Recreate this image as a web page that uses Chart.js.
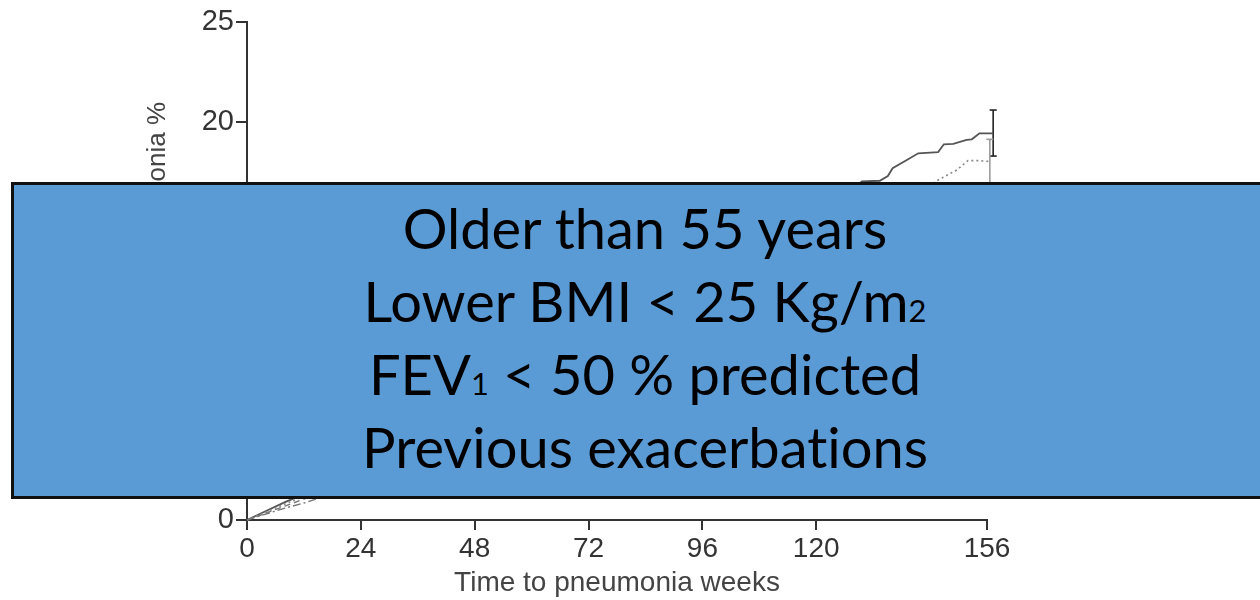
<!DOCTYPE html>
<html>
<head>
<meta charset="utf-8">
<title>Time to pneumonia</title>
<script src="https://cdn.jsdelivr.net/npm/chart.js@4.4.1/dist/chart.umd.min.js"></script>
<style>
  html, body { margin: 0; padding: 0; background: #fff; overflow: hidden; }
  #wrap { position: relative; width: 1260px; height: 600px; overflow: hidden; }
  #chart { position: absolute; left: 0; top: 0; }
  #risk {
    position: absolute; left: 11px; top: 182px; width: 1268px; height: 317px;
    box-sizing: border-box; background: #5b9bd5; border: 3px solid #111;
    display: flex; flex-direction: column; justify-content: center; align-items: center;
    font-family: Lato, "Open Sans", sans-serif; font-size: 56px; line-height: 73px; color: #000;
    font-variant-ligatures: none; padding-bottom: 7px;
  }
  #risk div { white-space: nowrap; height: 73px; }
  #risk small { font-size: 0.55em; line-height: 0; }
</style>
</head>
<body>
<div id="wrap">
  <canvas id="chart" width="1260" height="600"></canvas>
  <div id="risk">
    <div>Older than 55 years</div>
    <div>Lower BMI &lt; 25 Kg/m<small>2</small></div>
    <div>FEV<small>1</small> &lt; 50 % predicted</div>
    <div>Previous exacerbations</div>
  </div>
</div>
<script>
// Cumulative probability of pneumonia (%) by week, one pair of arrays per arm
const solidWeeks = [0, 4, 8, 12, 24, 36, 48, 60, 72, 84, 96, 108, 120, 126, 129.6, 133.4, 135.1, 136.1, 139.1, 141.5, 145.7, 146.9, 148.9, 151.7, 152.8, 154.4, 157.3];
const solidPct   = [0, 0.45, 0.9, 1.3, 2.7, 4.3, 5.9, 7.5, 9.0, 10.6, 12.2, 13.8, 15.3, 16.2, 17.0, 17.03, 17.27, 17.66, 18.07, 18.41, 18.47, 18.86, 18.88, 19.08, 19.11, 19.41, 19.41];

const dottedWeeks = [0, 4, 8, 12, 24, 36, 48, 60, 72, 84, 96, 108, 120, 132, 142, 145.4, 149.6, 152.0, 154.2, 156.6];
const dottedPct   = [0, 0.4, 0.8, 1.2, 2.5, 3.8, 5.1, 6.6, 8.0, 9.5, 11.0, 12.4, 13.8, 15.2, 16.4, 17.03, 17.57, 18.04, 18.04, 18.0];

const dashedWeeks = [0, 4, 8, 12, 24, 48, 72, 96, 120, 144, 157];
const dashedPct   = [0, 0.35, 0.7, 1.05, 2.1, 4.2, 6.4, 8.6, 10.9, 12.6, 13.3];

const dashDotWeeks = [0, 4, 8, 12, 24, 48, 72, 96, 120, 144, 157];
const dashDotPct   = [0, 0.3, 0.6, 0.85, 1.8, 3.8, 5.9, 8.0, 10.1, 11.6, 12.3];

// End-of-study confidence intervals (solid, dotted, dashed, dash-dot)
const ciWeek = [157.3, 156.6, 156.9, 156.9];
const ciLow  = [18.27, 16.8, 12.1, 11.1];
const ciHigh = [20.58, 19.11, 14.5, 13.5];

const xTickValues = [0, 24, 48, 72, 96, 120, 156];
const yTitle = 'Probability of pneumonia %';
const xTitle = 'Time to pneumonia weeks';

const CAP_HALF = 0.75; // half width of an interval cap, in weeks

const pts = (xs, ys) => xs.map((x, i) => ({ x, y: ys[i] }));

const curve = (xs, ys, color, dash, width) => ({
  data: pts(xs, ys), showLine: true, borderColor: color, borderWidth: width,
  borderDash: dash, pointRadius: 0, clip: false, tension: 0
});

const segment = (a, b, color, width) => ({
  data: [a, b], showLine: true, borderColor: color, borderWidth: width,
  pointRadius: 0, clip: false
});

// vertical whisker plus a cap at each end
const ciBar = (i, color, width) => {
  const w = ciWeek[i];
  return [
    segment({ x: w, y: ciLow[i] }, { x: w, y: ciHigh[i] }, color, width),
    segment({ x: w - CAP_HALF, y: ciLow[i] }, { x: w + CAP_HALF, y: ciLow[i] }, color, width),
    segment({ x: w - CAP_HALF, y: ciHigh[i] }, { x: w + CAP_HALF, y: ciHigh[i] }, color, width)
  ];
};

const axisFont = { family: '"Liberation Sans", Arial, sans-serif' };

const yTitlePlugin = {
  id: 'yTitle',
  afterDraw(chart) {
    const ctx = chart.ctx;
    ctx.save();
    ctx.translate(165, 102);
    ctx.rotate(-Math.PI / 2);
    ctx.font = '26px "Liberation Sans", Arial, sans-serif';
    ctx.fillStyle = '#444';
    ctx.textAlign = 'right';
    ctx.textBaseline = 'alphabetic';
    ctx.fillText(yTitle, 0, 0);
    ctx.restore();
  }
};

new Chart(document.getElementById('chart'), {
  type: 'scatter',
  data: {
    datasets: [
      curve(dashDotWeeks, dashDotPct, '#777', [8, 3, 2, 3], 1.4),
      curve(dashedWeeks, dashedPct, '#777', [6, 4], 1.4),
      curve(dottedWeeks, dottedPct, '#888', [2, 3], 1.6),
      curve(solidWeeks, solidPct, '#555', [], 1.8),
      ...ciBar(3, '#999', 1.5),
      ...ciBar(2, '#999', 1.5),
      ...ciBar(1, '#9c9c9c', 1.6),
      ...ciBar(0, '#222', 1.6)
    ]
  },
  options: {
    responsive: false,
    animation: false,
    events: [],
    layout: { padding: { left: 0, top: 22, right: 273, bottom: 0 } },
    plugins: { legend: { display: false }, tooltip: { enabled: false } },
    scales: {
      x: {
        type: 'linear', min: 0, max: 156,
        afterBuildTicks: s => { s.ticks = xTickValues.map(v => ({ value: v })); },
        afterFit: s => { s.height = 80; },
        grid: { drawOnChartArea: false, drawTicks: true, tickLength: 10, color: '#333', lineWidth: 2 },
        border: { display: true, color: '#333', width: 2 },
        ticks: { color: '#333', font: { ...axisFont, size: 28 }, padding: 2, maxRotation: 0, autoSkip: false },
        title: { display: true, text: xTitle, color: '#444', font: { ...axisFont, size: 28 }, padding: { top: 0, bottom: 0 } }
      },
      y: {
        type: 'linear', min: 0, max: 25,
        ticks: { stepSize: 5, color: '#333', font: { ...axisFont, size: 29 }, padding: 2 },
        afterFit: s => { s.width = 247; },
        grid: { drawOnChartArea: false, drawTicks: true, tickLength: 11, color: '#333', lineWidth: 2 },
        border: { display: true, color: '#333', width: 2 }
      }
    }
  },
  plugins: [yTitlePlugin]
});
</script>
</body>
</html>
